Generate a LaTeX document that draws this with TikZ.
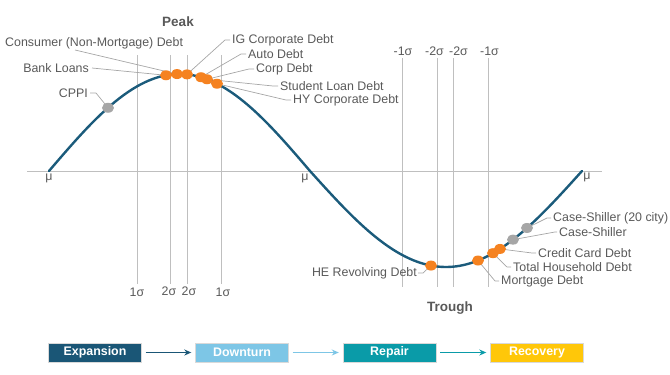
\documentclass[tikz,border=0pt]{standalone}
\usepackage{fontspec}
\setmainfont{Liberation Sans}
\usetikzlibrary{shapes.geometric,arrows.meta,calc}
\definecolor{curveblue}{HTML}{1B5B7B}
\definecolor{dotorange}{HTML}{F58220}
\definecolor{dotgray}{HTML}{A6A6A6}
\definecolor{txtgray}{HTML}{595959}
\definecolor{leadgray}{HTML}{A6A6A6}
\definecolor{gridgray}{HTML}{BFBFBF}
\definecolor{cexp}{HTML}{1A5676}
\definecolor{cdown}{HTML}{7DC6E6}
\definecolor{crep}{HTML}{0A9BA8}
\definecolor{crec}{HTML}{FFC709}
\begin{document}
\begin{tikzpicture}[x=1pt,y=-1pt,
  lbl/.style={font=\fontsize{12.4}{14}\selectfont, text=txtgray, inner sep=0pt},
  ttl/.style={font=\bfseries\fontsize{13.5}{15}\selectfont, text=txtgray, inner sep=0pt},
  odot/.style={ellipse, fill=dotorange, minimum width=12pt, minimum height=10pt, inner sep=0pt},
  gdot/.style={ellipse, fill=dotgray, minimum width=12pt, minimum height=10pt, inner sep=0pt},
  leader/.style={draw=leadgray, line width=0.7pt},
  vline/.style={draw=gridgray, line width=0.8pt},
  phasebox/.style={minimum width=93pt, minimum height=19pt, inner sep=0pt, draw=white!85!black, line width=0.4pt, font=\bfseries\fontsize{12.4}{14}\selectfont, text=white},
  flow/.style={-{Stealth[length=7pt,width=6pt]}, line width=1.2pt},
  declare function={ftop(\t)=171-97*sin(0.689655*(\t-49)); fbot(\t)=171+96*sin(0.661765*(\t-310));}
  ]
\useasboundingbox (0,0) rectangle (670,375);
% grid lines
\foreach \xx in {137,170,187,221} \draw[vline] (\xx,55) -- (\xx,284);
\foreach \xx in {402,437,453,488} \draw[vline] (\xx,58) -- (\xx,287);
\draw[draw=gridgray, line width=1pt] (27,171) -- (602,171);
% sigma labels
\node[lbl] (sa) at (137,292) {1σ};
\node[lbl] (sb) at (169,291) {2σ};
\node[lbl] (sc) at (189,291) {2σ};
\node[lbl] (sd) at (223,292) {1σ};
\node[lbl] (se) at (403,51) {-1σ};
\node[lbl] (sf) at (434.5,51) {-2σ};
\node[lbl] (sg) at (458.5,51) {-2σ};
\node[lbl] (sh) at (489.5,51) {-1σ};
\node[lbl] (mua) at (49,178) {μ};
\node[lbl] (mub) at (305,178) {μ};
\node[lbl] (muc) at (587,177) {μ};
\node[ttl] (peak) at (178,22) {Peak};
\node[ttl] (trough) at (450,308) {Trough};
% curve
\draw[curveblue, line width=2.4pt, line cap=round]
  plot[domain=49:310, samples=90] (\x,{ftop(\x)})
  -- plot[domain=310:582, samples=90] (\x,{fbot(\x)});
% dot positions
\coordinate (pc) at (108,{ftop(108)});
\coordinate (p1) at (166,{ftop(166)});
\coordinate (p2) at (177,{ftop(177)});
\coordinate (p3) at (187,{ftop(187)});
\coordinate (p4) at (201,{ftop(201)});
\coordinate (p5) at (207,{ftop(207)});
\coordinate (p6) at (217,{ftop(217)});
\coordinate (q1) at (431,{fbot(431)});
\coordinate (q2) at (478,{fbot(478)});
\coordinate (q3) at (493,{fbot(493)});
\coordinate (q4) at (500,{fbot(500)});
\coordinate (q5) at (513,{fbot(513)});
\coordinate (q6) at (527,{fbot(527)});
% labels
\node[lbl, anchor=west] (cons) at (5,43) {Consumer (Non-Mortgage) Debt};
\node[lbl, anchor=east] (bank) at (89,68) {Bank Loans};
\node[lbl, anchor=east] (cppi) at (88,93) {CPPI};
\node[lbl, anchor=west] (ig) at (232,40) {IG Corporate Debt};
\node[lbl, anchor=west] (autod) at (248,54) {Auto Debt};
\node[lbl, anchor=west] (corp) at (256,69) {Corp Debt};
\node[lbl, anchor=west] (stud) at (280,86) {Student Loan Debt};
\node[lbl, anchor=west] (hy) at (293,100) {HY Corporate Debt};
\node[lbl, anchor=west] (cs20) at (553,218) {Case-Shiller (20 city)};
\node[lbl, anchor=west] (cs) at (559,232) {Case-Shiller};
\node[lbl, anchor=west] (cc) at (538,253) {Credit Card Debt};
\node[lbl, anchor=west] (tot) at (513,267) {Total Household Debt};
\node[lbl, anchor=west] (mort) at (501,281) {Mortgage Debt};
\node[lbl, anchor=east] (he) at (417,273) {HE Revolving Debt};
% leaders
\coordinate (consl) at (75,50);
\draw[leader] (consl) -- (p2);
\draw[leader] (bank.east) ++(3,0) -- (p1);
\draw[leader] (cppi.east) ++(2,0) -- ++(6,0) -- (pc);
\draw[leader] (ig.west) ++(-2,0) -- ++(-5,0) -- (p3);
\draw[leader] (autod.west) ++(-2,0) -- ++(-5,0) -- (p4);
\draw[leader] (corp.west) ++(-2,0) -- ++(-5,0) -- (p5);
\draw[leader] (stud.west) ++(-2,0) -- ++(-5,0) -- (p5);
\draw[leader] (hy.west) ++(-2,0) -- ++(-5,0) -- (p6);
\draw[leader] (cs20.west) ++(-2,0) -- ++(-4,0) -- (q6);
\draw[leader] (cs.west) ++(-2,0) -- ++(-2,0) -- (q5);
\draw[leader] (cc.west) ++(-2,0) -- ++(-4,0) -- (q4);
\draw[leader] (tot.west) ++(-2,0) -- ++(-4,0) -- (q3);
\draw[leader] (mort.west) ++(-2,0) -- ++(-4,0) -- (q2);
\draw[leader] (he.east) ++(1,0) -- ++(5,0) -- (q1);
% dots
\node[gdot] (dc) at (pc) {};
\node[odot] (d1) at (p1) {};
\node[odot] (d2) at (p2) {};
\node[odot] (d3) at (p3) {};
\node[odot] (d4) at (p4) {};
\node[odot] (d5) at (p5) {};
\node[odot] (d6) at (p6) {};
\node[odot] (e1) at (q1) {};
\node[odot] (e2) at (q2) {};
\node[odot] (e3) at (q3) {};
\node[odot] (e4) at (q4) {};
\node[gdot] (e5) at (q5) {};
\node[gdot] (e6) at (q6) {};
% phases
\node[phasebox, fill=cexp] (exp) at (95,352.5) {Expansion};
\node[phasebox, fill=cdown] (down) at (242,352.5) {Downturn};
\node[phasebox, fill=crep] (rep) at (389.5,352.5) {Repair};
\node[phasebox, fill=crec] (rec) at (537,352.5) {Recovery};
\draw[flow, cexp] ([xshift=4pt]exp.east) -- ([xshift=-4pt]down.west);
\draw[flow, cdown] ([xshift=4pt]down.east) -- ([xshift=-4pt]rep.west);
\draw[flow, crep] ([xshift=4pt]rep.east) -- ([xshift=-4pt]rec.west);
\end{tikzpicture}
\end{document}
